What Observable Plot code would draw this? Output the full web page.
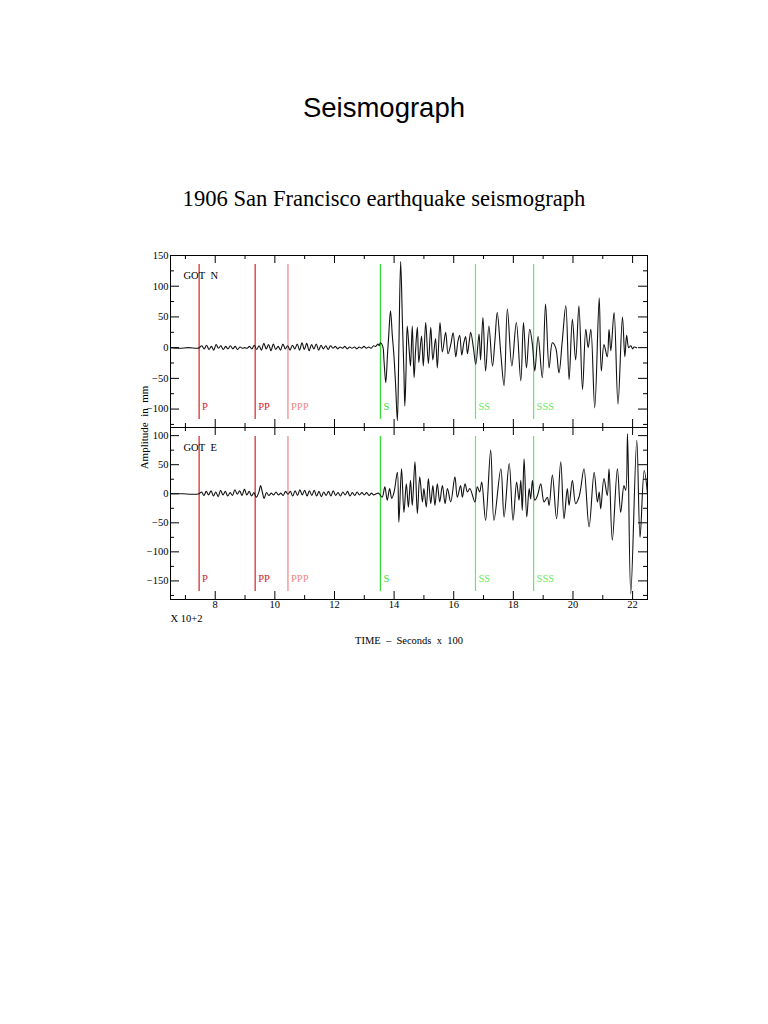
<!DOCTYPE html>
<html>
<head>
<meta charset="utf-8">
<script src="https://cdn.jsdelivr.net/npm/d3@7"></script>
<script src="https://cdn.jsdelivr.net/npm/@observablehq/plot@0.6"></script>
<style>
  body { margin: 0; background: #fff; }
  #page { position: relative; width: 768px; height: 1024px; overflow: hidden; }
  .title { position: absolute; left: 0; width: 768px; text-align: center; white-space: nowrap; color: #000; }
</style>
</head>
<body>
<div id="page">
  <div class="title" style="top:92px;font:27.5px 'Liberation Sans', Arial, sans-serif;">Seismograph</div>
  <div class="title" style="top:186px;font:22.6px 'Liberation Serif', 'Times New Roman', serif;">1906 San Francisco earthquake seismograph</div>
  <div id="topPanel" style="position:absolute;left:120px;top:245px;"></div>
  <div id="botPanel" style="position:absolute;left:120px;top:427px;"></div>
</div>
<script>
// ---- axis ticks ----
const xMajor = [8, 10, 12, 14, 16, 18, 20, 22];
const xMinor = [7, 9, 11, 13, 15, 17, 19, 21];
const nMajor = [-100, -50, 0, 50, 100, 150];
const nMinor = [-125, -75, -25, 25, 75, 125];
const eMajor = [-150, -100, -50, 0, 50, 100];
const eMinor = [-175, -125, -75, -25, 25, 75];

// ---- seismic phase arrivals ----
const phaseName = ["P", "PP", "PPP", "S", "SS", "SSS"];
const phaseTime = [7.46, 9.34, 10.44, 13.54, 16.73, 18.68];
const phaseColor = ["#d42222", "#d42222", "#ee8888", "#33dd33", "#66e866", "#66e866"];

// ---- GOT N component (time in s x 100, amplitude in mm) ----
const nTime = [6.50, 6.80, 7.10, 7.40, 7.47, 7.55, 7.63, 7.71, 7.79, 7.87, 7.95, 8.03, 8.11, 8.19, 8.27, 8.35, 8.43, 8.51, 8.59, 8.67, 8.75, 8.83, 8.91, 8.99, 9.07, 9.15, 9.23, 9.31, 9.39, 9.47, 9.55, 9.63, 9.71, 9.79, 9.87, 9.95, 10.03, 10.11, 10.19, 10.27, 10.35, 10.43, 10.51, 10.59, 10.67, 10.75, 10.83, 10.91, 10.99, 11.07, 11.15, 11.23, 11.31, 11.39, 11.47, 11.55, 11.63, 11.71, 11.79, 11.87, 11.95, 12.03, 12.11, 12.19, 12.27, 12.35, 12.43, 12.51, 12.59, 12.67, 12.75, 12.83, 12.91, 12.99, 13.07, 13.15, 13.23, 13.31, 13.38, 13.46, 13.50,
  13.54, 13.62, 13.66, 13.72, 13.78, 13.82, 13.88, 13.94, 13.99, 14.05, 14.11, 14.16, 14.22, 14.28, 14.33, 14.36, 14.40, 14.44, 14.50, 14.55, 14.61, 14.67, 14.72, 14.78, 14.83, 14.92, 14.98, 15.06, 15.15, 15.23, 15.30, 15.39, 15.45, 15.54, 15.62, 15.73, 15.81, 15.90, 15.98, 16.07, 16.14, 16.20, 16.27, 16.34, 16.40, 16.46, 16.52, 16.57, 16.66, 16.74, 16.85, 16.90, 16.98, 17.07, 17.18, 17.30, 17.38, 17.46, 17.58, 17.69, 17.80, 17.95, 18.10, 18.25, 18.34, 18.44, 18.55, 18.64, 18.72, 18.83, 18.97, 19.08, 19.20, 19.31, 19.42, 19.53, 19.64, 19.76, 19.87, 19.98, 20.09, 20.20, 20.32, 20.43, 20.51, 20.60, 20.73, 20.88, 20.95, 21.04, 21.15, 21.21, 21.27, 21.38, 21.51, 21.66, 21.74, 21.80, 21.87, 21.94, 22.00, 22.05, 22.14];
const nAmp = [0, -1, 0, -1, 0, 3, -2, 4, -3, 2, -4, 5, -1, 3, -3, 2, -2, 3, -2, 2, -3, 1, -1, 0, -1, 2, -2, 4, -3, 3, -4, 7, -2, 5, -5, 6, -3, 2, -4, 6, -2, 3, -4, 4, -2, 6, -4, 8, -3, 7, -5, 5, -2, 6, -4, 4, -2, 3, -3, 3, -1, 2, -2, 1, -1, 2, -2, 1, -1, 1, -2, 1, -1, 2, -1, 1, -1, 3, 2, 6, 3,
  8, 2, -20, -57, -10, 20, 60, 20, -10, -60, -119, 0, 140, 40, -40, -95, -40, 35, 0, -30, 35, -49, -5, 33, -24, 19, -30, 41, -26, 33, -20, 15, -33, 41, -7, 25, -10, 5, 24, -15, 10, 20, -12, 8, 18, -10, 10, 25, 0, -27, 22, -20, 49, -38, 35, -30, 10, 57, -10, -62, 63, -30, 41, -54, 41, -33, 30, 5, -38, 18, -49, 71, -33, 8, 0, -41, 10, 68, -52, 46, -20, 68, -68, 30, 0, 30, -98, 81, -38, 5, -15, 30, -5, 57, -92, 50, -15, 20, 0, 3, -2, 1, 0];

// ---- GOT E component ----
const eTime = [6.50, 6.90, 7.20, 7.46, 7.54, 7.62, 7.70, 7.78, 7.86, 7.94, 8.02, 8.10, 8.18, 8.26, 8.34, 8.42, 8.50, 8.58, 8.66, 8.74, 8.82, 8.90, 8.98, 9.06, 9.14, 9.22, 9.30, 9.38, 9.46, 9.52, 9.58, 9.64, 9.72, 9.80, 9.88, 9.96, 10.04, 10.12, 10.20, 10.28, 10.36, 10.44, 10.52, 10.60, 10.68, 10.76, 10.84, 10.92, 11.00, 11.08, 11.16, 11.24, 11.32, 11.40, 11.48, 11.56, 11.64, 11.72, 11.80, 11.88, 11.96, 12.04, 12.12, 12.20, 12.28, 12.36, 12.44, 12.52, 12.60, 12.68, 12.76, 12.84, 12.92, 13.00, 13.08, 13.16, 13.24, 13.32, 13.40, 13.48,
  13.60, 13.69, 13.77, 13.85, 13.92, 14.00, 14.11, 14.16, 14.25, 14.33, 14.41, 14.48, 14.55, 14.61, 14.70, 14.78, 14.86, 14.95, 15.00, 15.08, 15.15, 15.23, 15.30, 15.37, 15.45, 15.53, 15.62, 15.71, 15.79, 15.90, 16.04, 16.12, 16.23, 16.29, 16.38, 16.46, 16.54, 16.71, 16.79, 16.87, 16.94, 17.07, 17.24, 17.35, 17.58, 17.69, 17.86, 17.99, 18.11, 18.19, 18.25, 18.30, 18.36, 18.45, 18.53, 18.58, 18.64, 18.72, 18.81, 18.92, 19.03, 19.14, 19.20, 19.31, 19.45, 19.59, 19.70, 19.81, 19.87, 19.98, 20.09, 20.20, 20.26, 20.37, 20.54, 20.71, 20.82, 20.88, 20.93, 21.04, 21.15, 21.21, 21.32, 21.49, 21.60, 21.71, 21.77, 21.83, 21.94, 22.14, 22.25, 22.39, 22.50];
const eAmp = [0, 0, -1, 0, 3, -3, 4, -2, 5, -4, 3, -5, 6, -2, 4, -4, 2, -3, 7, -1, 5, -3, 8, -2, 4, -4, 2, -6, 2, 14, 3, -8, 2, -3, 1, -2, 3, -2, 1, -3, 4, -1, 4, -4, 5, -3, 7, -2, 6, -4, 5, -3, 6, -4, 4, -5, 3, -3, 4, -4, 5, -3, 2, -4, 3, -2, 4, -4, 2, -3, 3, -2, 2, -2, 2, -3, 1, -2, 0, 1,
  -6, 12, -11, 9, -8, 3, 37, -49, 43, -32, 17, -23, 23, -20, 55, -34, 29, -14, 9, -23, 26, -17, 14, -20, 17, -14, 14, -17, 9, -14, 29, -6, 14, -6, 17, 3, 9, -14, 12, 3, 20, -46, 75, -46, 43, -40, 52, -46, 20, -11, 23, -29, 60, -40, 9, -9, 23, -11, -3, 17, -14, -6, -20, 32, -43, 55, -43, 9, -20, 23, -17, -6, 9, 43, -57, 37, -14, 3, -26, 26, -3, 43, -80, 43, -32, 14, 6, 103, -172, 92, -75, 40, 0];

const xDomain = [6.5, 22.5];
const nDomain = [-130, 150];
const eDomain = [-182, 114];

const FRAME_W = 477, PANEL_H = 172;
const fmt = d => d < 0 ? "\u2212" + Math.abs(d) : String(d);
const labelFont = "'Liberation Serif', 'Times New Roman', serif";

function panel({time, amp, yDomain, major, minor, station, marginTop, marginBottom, bottomAxis}) {
  const idx = d3.range(time.length);
  const ph = d3.range(phaseName.length);
  const marks = [
    Plot.frame({stroke: "#000", strokeWidth: 1}),
    // phase arrival markers
    Plot.ruleX(ph, {x: i => phaseTime[i], stroke: i => phaseColor[i], strokeWidth: 1.2, insetTop: 9, insetBottom: 8}),
    Plot.text(ph, {x: i => phaseTime[i], text: i => phaseName[i], fill: i => phaseColor[i], frameAnchor: "bottom", dy: -18, dx: 3, textAnchor: "start", fontSize: 10.5, fontFamily: labelFont}),
    // x ticks (bottom and top edges, pointing inward)
    Plot.ruleX(xMajor, {x: d => d, insetTop: PANEL_H - 8, stroke: "#000"}),
    Plot.ruleX(xMinor, {x: d => d, insetTop: PANEL_H - 4, stroke: "#000"}),
    Plot.ruleX(xMajor, {x: d => d, insetBottom: PANEL_H - 8, stroke: "#000"}),
    Plot.ruleX(xMinor, {x: d => d, insetBottom: PANEL_H - 4, stroke: "#000"}),
    // y ticks (left and right edges, pointing inward)
    Plot.ruleY(major, {y: d => d, insetRight: FRAME_W - 9, stroke: "#000"}),
    Plot.ruleY(minor, {y: d => d, insetRight: FRAME_W - 4, stroke: "#000"}),
    Plot.ruleY(major, {y: d => d, insetLeft: FRAME_W - 9, stroke: "#000"}),
    Plot.ruleY(minor, {y: d => d, insetLeft: FRAME_W - 4, stroke: "#000"}),
    // y tick labels
    Plot.text(major, {y: d => d, text: d => fmt(d), frameAnchor: "left", dx: -2, textAnchor: "end", fontSize: 10.5, fontFamily: labelFont, fill: "#000"}),
    // waveform
    Plot.line(idx, {x: i => time[i], y: i => amp[i], stroke: "#111", strokeWidth: 1.1, curve: "catmull-rom", clip: true}),
    // station label
    Plot.text(["GOT"], {text: d => d, frameAnchor: "top-left", dx: 13, dy: 16, textAnchor: "start", fontSize: 10.5, fontFamily: labelFont, fill: "#000"}),
    Plot.text([station], {text: d => d, frameAnchor: "top-left", dx: 40, dy: 16, textAnchor: "start", fontSize: 10.5, fontFamily: labelFont, fill: "#000"})
  ];
  if (bottomAxis) {
    marks.push(
      Plot.text(xMajor, {x: d => d, text: d => String(d), frameAnchor: "bottom", dy: 8, fontSize: 10.5, fontFamily: labelFont, fill: "#000"}),
      Plot.text(["X 10+2"], {text: d => d, frameAnchor: "bottom-left", dy: 22, textAnchor: "start", fontSize: 10.5, fontFamily: labelFont, fill: "#000"}),
      Plot.text(["TIME  \u2013  Seconds  x  100"], {text: d => d, frameAnchor: "bottom", dy: 44, fontSize: 10.5, fontFamily: labelFont, fill: "#000"}),
      Plot.text(["Amplitude  in  mm"], {text: d => d, frameAnchor: "top-left", dx: -30, dy: 0, rotate: -90, textAnchor: "middle", fontSize: 11, fontFamily: labelFont, fill: "#000"})
    );
  }
  return Plot.plot({
    width: 50 + FRAME_W + 20,
    height: marginTop + PANEL_H + marginBottom,
    marginLeft: 50, marginRight: 20, marginTop, marginBottom,
    x: {domain: xDomain, axis: null},
    y: {domain: yDomain, axis: null},
    color: {type: "identity"},
    style: {overflow: "visible", background: "transparent", fontFamily: labelFont, fontSize: "10px"},
    marks
  });
}

document.getElementById("topPanel").append(panel({time: nTime, amp: nAmp, yDomain: nDomain, major: nMajor, minor: nMinor, station: "N", marginTop: 10, marginBottom: 0, bottomAxis: false}));
document.getElementById("botPanel").append(panel({time: eTime, amp: eAmp, yDomain: eDomain, major: eMajor, minor: eMinor, station: "E", marginTop: 0, marginBottom: 50, bottomAxis: true}));
</script>
</body>
</html>
